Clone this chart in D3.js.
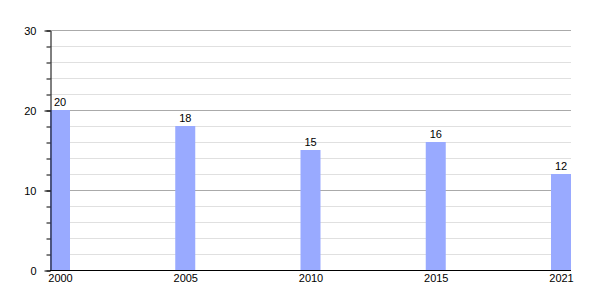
<!DOCTYPE html>
<html>
<head>
<meta charset="utf-8">
<script src="https://cdn.jsdelivr.net/npm/d3@7"></script>
<style>
body{margin:0;background:#fff;}
svg text{font-family:"Liberation Sans",Arial,sans-serif;font-size:11px;fill:#000;}
</style>
</head>
<body>
<div id="chart"></div>
<script>
// chart data
let years=["2000","2005","2010","2015","2021"];
let values=[20,18,15,16,12];
let majorTicks=[0,10,20,30];
let minorTicks=d3.range(0,31,2);

let width=600, height=300;
let plotLeft=50, plotRight=571, plotTop=30, plotBottom=270;
let barWidth=20;

let svg=d3.select("#chart").append("svg").attr("width",width).attr("height",height);

let y=d3.scaleLinear().domain([0,30]).range([plotBottom,plotTop]);
let x=d3.scalePoint().domain(years).range([plotLeft+barWidth/2,plotRight-barWidth/2]);

// minor grid
svg.append("g").selectAll("line")
	.data(minorTicks.filter(d=>d%10!=0))
	.join("line")
	.attr("x1",plotLeft).attr("x2",plotRight)
	.attr("y1",d=>y(d)+0.5).attr("y2",d=>y(d)+0.5)
	.attr("stroke","#e0e0e0");

// major grid
svg.append("g").selectAll("line")
	.data(majorTicks.filter(d=>d!=0))
	.join("line")
	.attr("x1",plotLeft).attr("x2",plotRight)
	.attr("y1",d=>y(d)+0.5).attr("y2",d=>y(d)+0.5)
	.attr("stroke","#aaaaaa");

// bars
svg.append("g").selectAll("rect")
	.data(values)
	.join("rect")
	.attr("x",(d,i)=>x(years[i])-barWidth/2)
	.attr("y",d=>y(d))
	.attr("width",barWidth)
	.attr("height",d=>plotBottom-y(d))
	.attr("fill","#99aaff");

// value labels
svg.append("g").selectAll("text")
	.data(values)
	.join("text")
	.attr("x",(d,i)=>x(years[i]))
	.attr("y",d=>y(d)-4)
	.attr("text-anchor","middle")
	.text(d=>d);

// y axis minor ticks
svg.append("g")
	.attr("transform","translate("+(plotLeft+0.5)+",0.5)")
	.call(d3.axisLeft(y).tickValues(minorTicks).tickSize(4).tickFormat(""))
	.call(g=>g.select(".domain").remove());

// y axis major
let yAxis=svg.append("g")
	.attr("transform","translate("+(plotLeft+0.5)+",0.5)")
	.call(d3.axisLeft(y).tickValues(majorTicks).tickSize(6).tickPadding(8).tickSizeOuter(0));
yAxis.selectAll("text").style("font-size","11px").attr("fill","#000").style("font-family","Liberation Sans, Arial, sans-serif");

// x axis
let xAxis=svg.append("g")
	.attr("transform","translate(0,"+(plotBottom+0.5)+")")
	.call(d3.axisBottom(x).tickSize(0).tickPadding(4).tickSizeOuter(0));
xAxis.select(".domain").attr("d","M"+plotLeft+",0H"+plotRight);
xAxis.selectAll("text").style("font-size","11px").attr("fill","#000").style("font-family","Liberation Sans, Arial, sans-serif");
</script>
</body>
</html>
